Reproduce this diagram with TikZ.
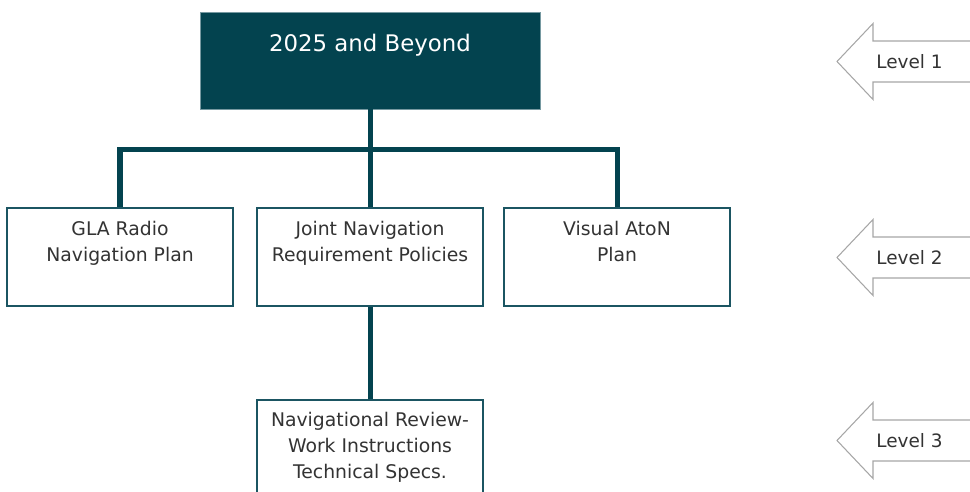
\documentclass[tikz,border=0pt]{standalone}
\usepackage{fontspec}
\setmainfont{DejaVu Sans}
\usetikzlibrary{positioning}

\definecolor{petrol}{HTML}{03434F}
\definecolor{boxline}{HTML}{1B5562}
\definecolor{inkgray}{HTML}{333333}
\definecolor{arrowgray}{HTML}{A6A6A6}

\begin{document}
\begin{tikzpicture}[x=0.02cm,y=-0.02cm,
    trunk/.style={draw=petrol,line width=2.85pt},
    goalbox/.style={fill=petrol,draw=boxline!60,line width=0.5pt,
                    minimum width=6.8cm,minimum height=1.94cm,inner sep=0pt},
    planbox/.style={draw=boxline,line width=0.9pt,fill=white,
                    minimum width=4.52cm,minimum height=1.96cm,inner sep=0pt},
    boxtext/.style={align=center,inner sep=0pt,text=inkgray,
                    font=\fontsize{10.7}{14.8}\selectfont},
    levelarrow/.style={draw=arrowgray,line width=0.6pt,fill=white},
    leveltext/.style={anchor=west,inner sep=0pt,text=inkgray,
                      font=\fontsize{10.5}{12}\selectfont}]
  \clip (0,0) rectangle (970,492);

  % top of the tree
  \node[goalbox] (goal) at (370,60.5) {};
  \node[boxtext,text=white,font=\fontsize{13}{15}\selectfont,
        below=0.446cm of goal.north] (goaltext) {2025 and Beyond};

  % plans and the review below them
  \node[planbox] (gla) at (120,257) {};
  \node[planbox] (jnr) at (370,257) {};
  \node[planbox] (aton) at (617,257) {};
  \node[planbox] (review) at (370,449) {};

  \coordinate (fork) at (370,150);
  \draw[trunk] (goal.south) -- (jnr.north);
  \draw[trunk] (fork) -| (gla.north);
  \draw[trunk] (fork) -| (aton.north);
  \draw[trunk] (jnr.south) -- (review.north);

  \node[boxtext,below=0.27cm of gla.north] (glatext) {GLA Radio\\Navigation Plan};
  \node[boxtext,below=0.27cm of jnr.north] (jnrtext) {Joint Navigation\\Requirement Policies};
  \node[boxtext,below=0.27cm of aton.north] (atontext) {Visual AtoN\\Plan};
  \node[boxtext,below=0.25cm of review.north] (reviewtext)
        {Navigational Review-\\Work Instructions\\Technical Specs.};

  % level markers on the right
  \foreach \n/\yy in {1/61.5,2/257.5,3/440.5}{
    \draw[levelarrow] (980,\yy-20.5) -- (873,\yy-20.5) -- (873,\yy-38)
      -- (837,\yy) -- (873,\yy+38) -- (873,\yy+20.5) -- (980,\yy+20.5);
    \node[leveltext] (level\n) at (876,\yy) {Level \n};
  }
\end{tikzpicture}
\end{document}
